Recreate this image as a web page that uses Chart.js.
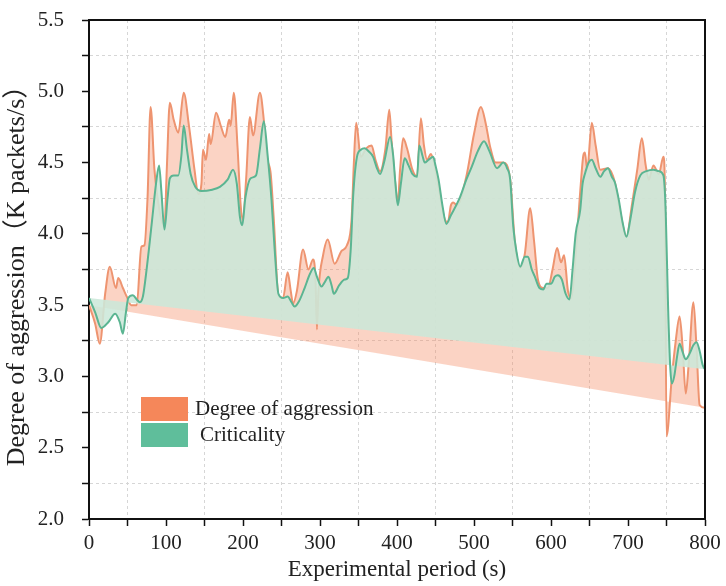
<!DOCTYPE html>
<html>
<head>
<meta charset="utf-8">
<script src="https://cdn.jsdelivr.net/npm/chart.js@4"></script>
<style>
  html, body { margin: 0; padding: 0; background: #fff; }
  #wrap { width: 726px; height: 586px; }
</style>
</head>
<body>
<div id="wrap"><canvas id="chart" width="726" height="586"></canvas></div>
<script>
// Degree of aggression (orange)
const aggrX = [0, 8, 14, 21, 27, 35, 38, 44, 49, 55, 62, 68, 72, 76, 80, 85, 92, 98, 101, 105,
  110, 116, 123, 130, 137, 142, 146, 148, 152, 156, 158, 165, 171, 177, 182, 184, 188, 193, 197, 200,
  204, 209, 213, 222, 227, 231, 236, 240, 246, 252, 258, 262, 265, 270, 278, 285, 291, 294, 296, 298,
  304, 310, 319, 328, 335, 341, 344, 347, 353, 360, 367, 372, 378, 385, 390, 393, 397, 401, 404, 408,
  413, 420, 426, 431, 435, 439, 444, 448, 455, 461, 466, 470, 473, 478, 490, 500, 509, 515, 521, 528,
  538, 547, 553, 560, 566, 573, 578, 583, 590, 596, 602, 608, 613, 617, 622, 626, 632, 638, 642, 644,
  647, 653, 658, 664, 674, 683, 690, 698, 705, 712, 718, 723, 727, 733, 740, 746, 748, 750, 757, 762,
  767, 771, 775, 779, 785, 789, 793, 800];
const aggrY = [3.50, 3.37, 3.23, 3.58, 3.77, 3.62, 3.69, 3.62, 3.56, 3.50, 3.50, 3.91, 3.92, 4.25, 4.89, 4.45, 4.15, 4.05, 4.45, 4.92,
  4.80, 4.71, 4.99, 4.75, 4.45, 4.28, 4.35, 4.59, 4.52, 4.70, 4.63, 4.85, 4.76, 4.68, 4.80, 4.76, 4.99, 4.60, 4.20, 4.10,
  4.38, 4.82, 4.69, 4.99, 4.80, 4.54, 4.42, 4.10, 3.57, 3.55, 3.73, 3.60, 3.51, 3.60, 3.89, 3.75, 3.82, 3.70, 3.33, 3.60,
  3.85, 3.96, 3.79, 3.88, 3.92, 4.10, 4.50, 4.78, 4.54, 4.60, 4.62, 4.52, 4.44, 4.60, 4.87, 4.65, 4.40, 4.22, 4.45, 4.67,
  4.60, 4.45, 4.40, 4.81, 4.62, 4.52, 4.56, 4.50, 4.30, 4.12, 4.08, 4.20, 4.22, 4.20, 4.40, 4.70, 4.89, 4.78, 4.61, 4.50,
  4.50, 4.38, 3.95, 3.76, 3.86, 4.18, 3.95, 3.68, 3.62, 3.62, 3.75, 3.90, 3.80, 3.85, 3.60, 3.55, 3.85, 4.30, 4.55, 4.57,
  4.45, 4.78, 4.62, 4.45, 4.46, 4.36, 4.15, 3.98, 4.20, 4.45, 4.67, 4.48, 4.38, 4.48, 4.42, 4.54, 4.30, 2.58, 3.00, 3.25,
  3.42, 3.20, 2.88, 3.10, 3.52, 3.20, 2.80, 2.78];

// Criticality (green)
const critX = [0, 8, 16, 25, 34, 40, 44, 48, 51, 57, 62, 66, 70, 73, 78, 82, 87, 91, 94, 98,
  102, 105, 110, 116, 120, 123, 127, 132, 138, 146, 160, 170, 180, 187, 192, 196, 199, 203, 210, 217,
  222, 227, 232, 237, 241, 246, 252, 258, 263, 267, 273, 280, 287, 292, 296, 302, 306, 311, 315, 318,
  325, 332, 336, 340, 343, 348, 353, 358, 363, 369, 374, 378, 384, 391, 395, 398, 401, 405, 410, 415,
  420, 426, 429, 433, 436, 441, 447, 450, 454, 459, 464, 470, 482, 490, 497, 505, 513, 520, 530, 538,
  543, 547, 551, 555, 560, 566, 570, 575, 579, 585, 590, 594, 600, 605, 609, 614, 619, 624, 628, 632,
  638, 641, 644, 649, 653, 658, 664, 669, 674, 679, 683, 688, 693, 698, 703, 709, 716, 724, 733, 740,
  746, 749, 752, 755, 757, 760, 764, 767, 771, 775, 780, 785, 789, 793, 797, 800];
const critY = [3.55, 3.45, 3.34, 3.38, 3.44, 3.38, 3.30, 3.45, 3.55, 3.57, 3.54, 3.52, 3.56, 3.67, 3.90, 4.10, 4.35, 4.48, 4.30, 4.03,
  4.25, 4.39, 4.41, 4.41, 4.55, 4.76, 4.60, 4.42, 4.33, 4.30, 4.31, 4.33, 4.38, 4.45, 4.35, 4.12, 4.06, 4.25, 4.39, 4.41,
  4.60, 4.79, 4.55, 4.24, 3.90, 3.58, 3.55, 3.56, 3.52, 3.49, 3.53, 3.62, 3.72, 3.76, 3.70, 3.63, 3.66, 3.70, 3.64, 3.58,
  3.64, 3.68, 3.69, 3.90, 4.26, 4.54, 4.59, 4.60, 4.58, 4.54, 4.46, 4.42, 4.52, 4.68, 4.55, 4.35, 4.20, 4.35, 4.53, 4.48,
  4.42, 4.40, 4.62, 4.55, 4.50, 4.52, 4.54, 4.48, 4.38, 4.20, 4.07, 4.13, 4.26, 4.38, 4.47, 4.58, 4.65, 4.58, 4.46, 4.50,
  4.46, 4.38, 4.05, 3.88, 3.77, 3.84, 3.84, 3.75, 3.70, 3.62, 3.61, 3.65, 3.65, 3.70, 3.71, 3.68, 3.58, 3.54, 3.75, 4.00,
  4.17, 4.35, 4.42, 4.50, 4.52, 4.46, 4.40, 4.44, 4.46, 4.40, 4.36, 4.24, 4.08, 3.98, 4.10, 4.29, 4.41, 4.44, 4.45, 4.44,
  4.41, 4.15, 3.50, 3.05, 2.95, 3.00, 3.15, 3.23, 3.17, 3.12, 3.16, 3.22, 3.24, 3.18, 3.08, 3.05];

const seriesNames = ['Degree of aggression', 'Criticality'];
const xTicks = [0, 100, 200, 300, 400, 500, 600, 700, 800];
const yTicks = [2.0, 2.5, 3.0, 3.5, 4.0, 4.5, 5.0, 5.5];

const serif = '"Liberation Serif", "Times New Roman", "Noto Sans CJK SC", serif';
const gridCol = '#d6d6d6';
const clear = 'rgba(0,0,0,0)';

function toPoints(xs, ys) {
  return xs.map((x, i) => ({ x: x, y: ys[i] }));
}

// dashed grid only on the in-between (minor) ticks
function minorGrid(ctx) {
  return (ctx.index % 2 === 1) ? gridCol : clear;
}

// draw the top and right borders of the frame
const framePlugin = {
  id: 'frame',
  afterDraw(chart) {
    const a = chart.chartArea;
    const c = chart.ctx;
    c.save();
    c.strokeStyle = '#111';
    c.lineWidth = 2;
    c.setLineDash([]);
    c.beginPath();
    c.moveTo(a.left, a.top);
    c.lineTo(a.right, a.top);
    c.lineTo(a.right, a.bottom);
    c.stroke();
    c.restore();
  }
};

// legend boxes inside the plot
const legendPlugin = {
  id: 'boxLegend',
  afterDraw(chart) {
    const c = chart.ctx;
    const cols = ['#F5875A', '#5FBE9B'];
    const tx = [195, 200];
    c.save();
    c.font = '21px ' + serif;
    c.textBaseline = 'middle';
    for (let i = 0; i < 2; i++) {
      const y = 397 + i * 26;
      c.fillStyle = cols[i];
      c.fillRect(141, y, 47, 24);
      c.fillStyle = '#222';
      c.fillText(chart.data.datasets[i].label, tx[i], y + 12);
    }
    c.restore();
  }
};

new Chart(document.getElementById('chart'), {
  type: 'line',
  data: {
    datasets: [
      {
        label: seriesNames[0],
        data: toPoints(aggrX, aggrY),
        borderColor: '#EE9470',
        backgroundColor: 'rgba(245,140,100,0.38)',
        borderWidth: 2,
        pointRadius: 0,
        fill: 'shape',
        cubicInterpolationMode: 'monotone',
        order: 2
      },
      {
        label: seriesNames[1],
        data: toPoints(critX, critY),
        borderColor: '#5BB592',
        backgroundColor: 'rgba(204,232,218,0.88)',
        borderWidth: 2,
        pointRadius: 0,
        fill: 'shape',
        cubicInterpolationMode: 'monotone',
        order: 1
      }
    ]
  },
  options: {
    responsive: false,
    animation: false,
    layout: { padding: { top: 20, right: 21, left: 0, bottom: 0 } },
    plugins: {
      legend: { display: false },
      tooltip: { enabled: false }
    },
    scales: {
      x: {
        type: 'linear',
        min: 0,
        max: 800,
        afterFit: (s) => { s.height = 67; },
        border: { color: '#111', width: 2, dash: [3, 3] },
        grid: {
          color: minorGrid,
          tickColor: '#111',
          tickBorderDash: [],
          tickLength: 7,
          tickWidth: 1.5
        },
        ticks: {
          stepSize: 50,
          autoSkip: false,
          maxRotation: 0,
          padding: 5,
          color: '#222',
          font: { family: serif, size: 21 },
          callback: (v) => xTicks.includes(v) ? String(v) : ''
        },
        title: {
          display: true,
          text: 'Experimental period (s)',
          color: '#222',
          font: { family: serif, size: 23 },
          padding: { top: 0, bottom: 2 }
        }
      },
      y: {
        min: 2,
        max: 5.5,
        afterFit: (s) => {
          s.width = 89;
          // the label padding should not push the plot down
          s.paddingTop = 0;
          s.paddingBottom = 0;
        },
        border: { color: '#111', width: 2, dash: [3, 3] },
        grid: {
          color: minorGrid,
          tickColor: '#111',
          tickBorderDash: [],
          tickLength: 7,
          tickWidth: 1.5
        },
        ticks: {
          stepSize: 0.25,
          autoSkip: false,
          padding: 18,
          color: '#222',
          font: { family: serif, size: 21 },
          callback: (v) => {
            const hit = yTicks.find(t => Math.abs(t - v) < 1e-6);
            return hit !== undefined ? hit.toFixed(1) : '';
          }
        },
        title: {
          display: true,
          text: 'Degree of aggression（K packets/s）',
          color: '#222',
          font: { family: serif, size: 26 },
          padding: { top: 2, bottom: 0 }
        }
      }
    }
  },
  plugins: [framePlugin, legendPlugin]
});
</script>
</body>
</html>
